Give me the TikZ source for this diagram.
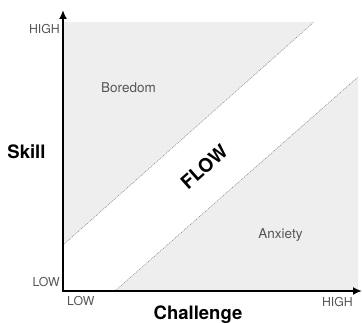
\documentclass[tikz,border=0pt]{standalone}
\usepackage{fontspec}
\setmainfont{TeX Gyre Heros}
\usetikzlibrary{arrows.meta}
\definecolor{zone}{HTML}{EEEEEE}
\definecolor{tick}{HTML}{555555}
\begin{document}
\begin{tikzpicture}[x=1pt, y=1pt, >={Latex[length=9pt,width=8pt]},
  level/.style={text=tick, font=\fontsize{12.3}{12.3}\selectfont, inner sep=0pt},
  zonelabel/.style={text=tick, font=\fontsize{13.5}{13.5}\selectfont, inner sep=0pt},
  axislabel/.style={font=\bfseries\fontsize{18.5}{18.5}\selectfont, inner sep=0pt},
  border/.style={draw=gray, line width=0.5pt, dash pattern=on 1pt off 1pt}]
\useasboundingbox (0,0) rectangle (362,323);

\coordinate (o) at (63,32);
\coordinate (ytop) at (63,313);
\coordinate (xend) at (362,32);
\coordinate (ua) at (63,78);
\coordinate (ub) at (314,301);
\coordinate (la) at (115,32);
\coordinate (lb) at (358,246);

\fill[zone] (ua) -- (63,301) -- (ub) -- cycle;
\fill[zone] (la) -- (358,32) -- (lb) -- cycle;
\draw[border] (ua) -- (ub);
\draw[border] (la) -- (lb);

\draw[<->, line width=2.6pt] (ytop) -- (o) -- (xend);

\node[level, anchor=base east] (highy) at (60,289) {HIGH};
\node[level, anchor=base east] (lowy) at (60,36) {LOW};
\node[level, anchor=base west] (lowx) at (67,17) {LOW};
\node[level, anchor=base east] (highx) at (353,16.5) {HIGH};

\node[zonelabel, anchor=base] (bored) at (128.5,230) {Boredom};
\node[zonelabel, anchor=base] (anx) at (280.5,84) {Anxiety};

\node[axislabel, anchor=base] (skill) at (26.5,164) {Skill};
\node[axislabel, anchor=base] (chal) at (198,3) {Challenge};
\node[font=\bfseries\fontsize{19}{19}\selectfont, rotate=41.6] (flow) at (204,156) {FLOW};
\end{tikzpicture}
\end{document}
